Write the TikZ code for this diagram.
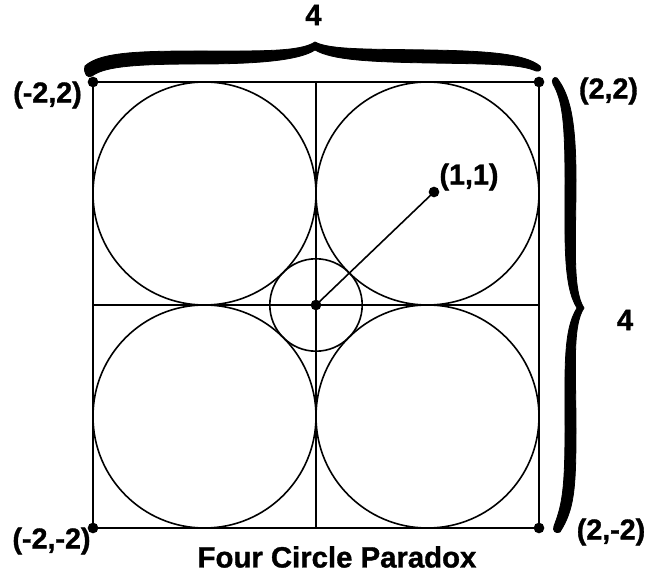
\documentclass[tikz,border=0pt]{standalone}
\usepackage{fontspec}
\setmainfont{Liberation Sans}[BoldFeatures={FakeBold=1.2}]
\begin{document}
\begin{tikzpicture}[x=0.75pt,y=-0.75pt,
  thinline/.style={line width=1.2pt,black},
  dotnode/.style={circle,fill=black,inner sep=0pt,minimum size=8pt},
  lbl/.style={font=\bfseries\fontsize{21.5}{24}\selectfont,inner sep=0pt},
  ttl/.style={font=\bfseries\fontsize{22}{24}\selectfont,inner sep=0pt},
  dimlbl/.style={font=\bfseries\fontsize{22}{24}\selectfont,inner sep=0pt},
  bracefill/.style={fill=black,draw=black,line width=0.6pt,line join=round}]
\useasboundingbox (0,0) rectangle (654,573);
% points
\node[dotnode] (tl) at (93,82) {};
\node[dotnode] (tr) at (539,82) {};
\node[dotnode] (bl) at (93,528) {};
\node[dotnode] (br) at (539,528) {};
\node[dotnode] (c) at (316,305) {};
\node[dotnode] (p) at (434,192) {};
\coordinate (mt) at (316,82);
\coordinate (mb) at (316,528);
\coordinate (ml) at (93,305);
\coordinate (mr) at (539,305);
% square and axes
\draw[thinline] (tl.center) -- (tr.center) -- (br.center) -- (bl.center) -- cycle;
\draw[thinline] (mt) -- (mb);
\draw[thinline] (ml) -- (mr);
% circles
\draw[thinline] (204.5,193.5) circle[radius=111.5];
\draw[thinline] (427.5,193.5) circle[radius=111.5];
\draw[thinline] (204.5,416.5) circle[radius=111.5];
\draw[thinline] (427.5,416.5) circle[radius=111.5];
\draw[thinline] (316,305) circle[radius=46.2];
% radius line
\draw[thinline] (c.center) -- (p.center);
% top brace
\path[bracefill] (85,66) .. controls (100,52) and (140,51) .. (200,51)
  .. controls (260,51) and (300,52) .. (315,42)
  .. controls (330,50) and (370,49) .. (430,50)
  .. controls (490,51) and (525,54) .. (540,66)
  .. controls (542,69) and (540,72) .. (536,71)
  .. controls (520,64) and (490,64) .. (430,63)
  .. controls (370,62) and (332,60) .. (315,50)
  .. controls (300,60) and (260,64) .. (200,64)
  .. controls (140,64) and (105,66) .. (92,76)
  .. controls (88,79) and (83,74) .. (85,66) -- cycle;
% right brace
\path[bracefill] (557,78) .. controls (570,95) and (576,120) .. (576,180)
  .. controls (576,240) and (572,290) .. (584,308)
  .. controls (572,326) and (576,370) .. (576,430)
  .. controls (576,490) and (574,510) .. (560,532)
  .. controls (556,534) and (552,531) .. (554,526)
  .. controls (562,505) and (565,490) .. (565,430)
  .. controls (565,370) and (563,330) .. (577,308)
  .. controls (563,286) and (565,240) .. (565,180)
  .. controls (565,120) and (562,100) .. (553,84)
  .. controls (551,80) and (554,76) .. (557,78) -- cycle;
% labels
\node[lbl] (ltl) at (47.5,95) {(-2,2)};
\node[lbl] (ltr) at (608.5,91) {(2,2)};
\node[lbl] (lbl) at (51.5,541) {(-2,-2)};
\node[lbl] (lbr) at (611,532) {(2,-2)};
\node[lbl] (lp) at (469,177) {(1,1)};
\node[dimlbl] (wtop) at (313.5,15) {4};
\node[dimlbl] (wright) at (625,320) {4};
\node[ttl] (title) at (337,557) {Four Circle Paradox};
\end{tikzpicture}
\end{document}
